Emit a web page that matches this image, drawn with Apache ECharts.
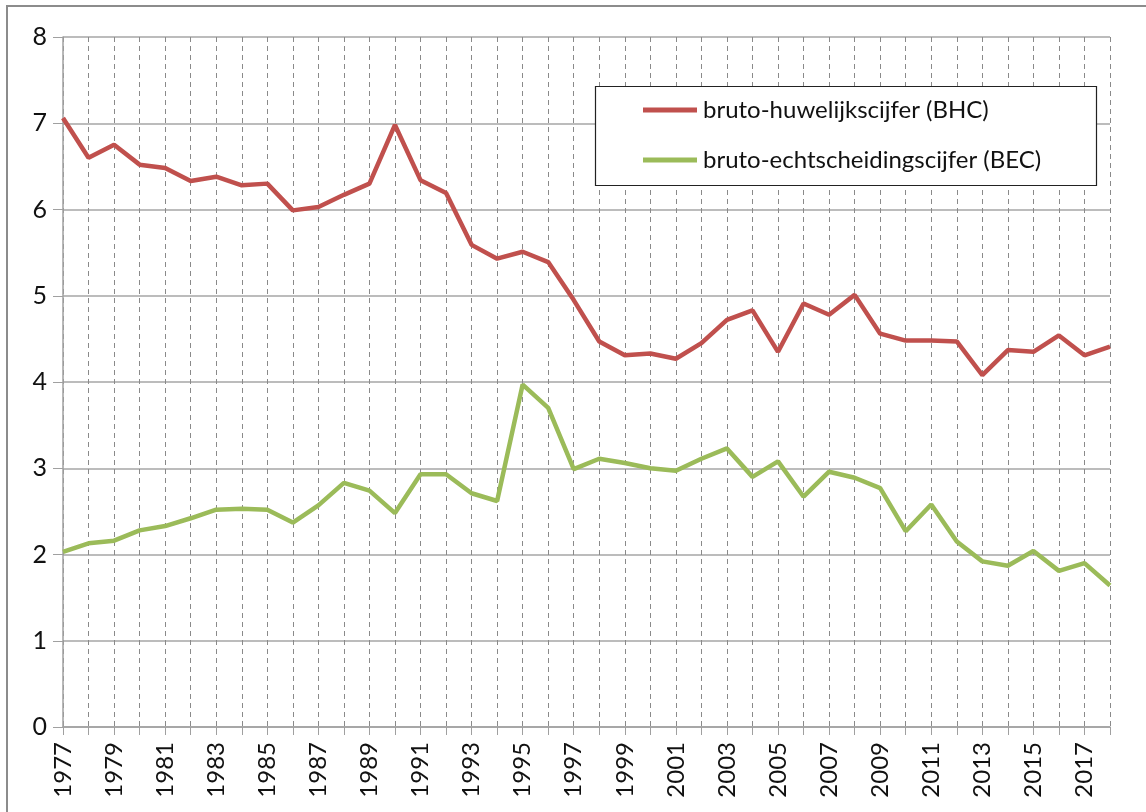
<!DOCTYPE html>
<html>
<head>
<meta charset="utf-8">
<script src="https://cdn.jsdelivr.net/npm/echarts@6/dist/echarts.min.js"></script>
<style>
  html, body { margin: 0; padding: 0; background: #fff; }
  #chart { width: 1146px; height: 812px; }
</style>
</head>
<body>
<div id="chart"></div>
<script>
// jaren 1977 - 2018
var years = [];
for (var y = 1977; y <= 2018; y++) years.push(String(y));

var bhc = [7.06, 6.60, 6.75, 6.52, 6.48, 6.33, 6.38, 6.28, 6.30, 5.99,
           6.03, 6.17, 6.30, 6.98, 6.34, 6.19, 5.59, 5.43, 5.51, 5.39,
           4.95, 4.47, 4.31, 4.33, 4.27, 4.45, 4.72, 4.83, 4.35, 4.91,
           4.78, 5.01, 4.56, 4.48, 4.48, 4.47, 4.08, 4.37, 4.35, 4.54,
           4.31, 4.41];

var bec = [2.03, 2.13, 2.16, 2.28, 2.33, 2.42, 2.52, 2.53, 2.52, 2.37,
           2.57, 2.83, 2.74, 2.48, 2.93, 2.93, 2.71, 2.62, 3.97, 3.70,
           2.99, 3.11, 3.06, 3.00, 2.97, 3.11, 3.23, 2.90, 3.08, 2.67,
           2.96, 2.89, 2.77, 2.27, 2.58, 2.15, 1.92, 1.87, 2.04, 1.81,
           1.90, 1.64];

var seriesNames = ['bruto-huwelijkscijfer (BHC)', 'bruto-echtscheidingscijfer (BEC)'];

var myChart = echarts.init(document.getElementById('chart'));

var option = {
    animation: false,
    textStyle: { fontFamily: 'Lato, "Open Sans", sans-serif' },
    graphic: [
        {
            // rand van het diagramgebied
            type: 'rect',
            shape: { x: 7, y: 6, width: 1160, height: 830 },
            style: { fill: null, stroke: '#8c8c8c', lineWidth: 2 },
            silent: true
        },
        {
            // kader van de legenda
            type: 'rect',
            z: 3,
            shape: { x: 595.5, y: 86.5, width: 501, height: 99 },
            style: { fill: '#fff', stroke: '#222', lineWidth: 1.2 },
            silent: true
        }
    ],
    grid: {
        left: 63,
        right: 36,
        top: 37,
        bottom: 85
    },
    legend: {
        orient: 'vertical',
        left: 595,
        top: 86,
        padding: [12, 44, 12, 48],
        itemGap: 26,
        itemWidth: 54,
        itemHeight: 5,
        icon: 'rect',
        z: 4,
        textStyle: { fontSize: 24, color: '#111', padding: [0, 0, 0, 1] },
        data: seriesNames
    },
    xAxis: {
        type: 'category',
        data: years,
        boundaryGap: false,
        axisLine: { lineStyle: { color: '#a0a0a0', width: 1.5 } },
        axisTick: { show: true, interval: 0, length: 8, lineStyle: { color: '#a0a0a0' } },
        axisLabel: {
            interval: 1,
            rotate: 90,
            margin: 15,
            fontSize: 24,
            color: '#111'
        },
        splitLine: {
            show: true,
            interval: 0,
            lineStyle: { color: '#8a8a8a', type: [5, 4], width: 1 }
        }
    },
    yAxis: {
        type: 'value',
        min: 0,
        max: 8,
        interval: 1,
        axisLine: { show: true, lineStyle: { color: '#a0a0a0', width: 1.5 } },
        axisTick: { show: true, length: 10, lineStyle: { color: '#a0a0a0' } },
        axisLabel: { fontSize: 25, color: '#111', margin: 16 },
        splitLine: { lineStyle: { color: '#a6a6a6', width: 1.5 } }
    },
    series: [
        {
            name: seriesNames[0],
            type: 'line',
            data: bhc,
            symbol: 'none',
            color: '#c0504d',
            lineStyle: { width: 4.5, color: '#c0504d' }
        },
        {
            name: seriesNames[1],
            type: 'line',
            data: bec,
            symbol: 'none',
            color: '#9bbb59',
            lineStyle: { width: 4.5, color: '#9bbb59' }
        }
    ]
};

myChart.setOption(option);
</script>
</body>
</html>
